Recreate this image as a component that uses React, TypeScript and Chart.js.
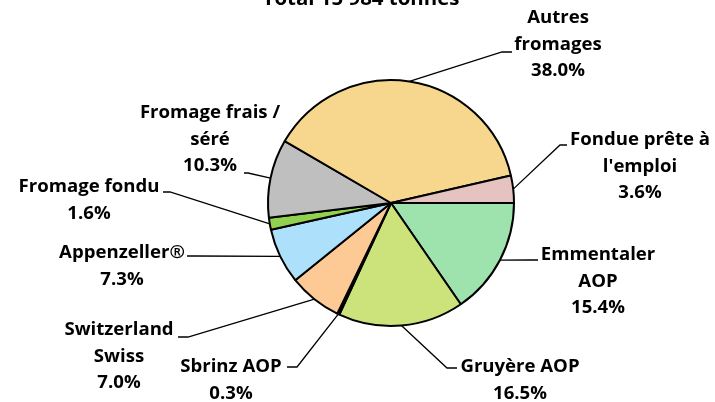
import React, { useEffect, useRef } from "react";
import { Chart, registerables } from "chart.js";

Chart.register(...registerables);

const categories: string[][] = [
  ["Emmentaler", "AOP"],
  ["Gruyère AOP"],
  ["Sbrinz AOP"],
  ["Switzerland", "Swiss"],
  ["Appenzeller®"],
  ["Fromage fondu"],
  ["Fromage frais /", "séré"],
  ["Autres", "fromages"],
  ["Fondue prête à", "l'emploi"],
];
const shares: number[] = [15.4, 16.5, 0.3, 7.0, 7.3, 1.6, 10.3, 38.0, 3.6];
const colors: string[] = [
  "#9EE2AD",
  "#CCE37B",
  "#1a1a1a",
  "#FDCA96",
  "#ADE0FA",
  "#92D050",
  "#BFBFBF",
  "#F7D78D",
  "#E5C3C1",
];
const titleText = "Total 15 984 tonnes";

// label layout: text centre (first line) and leader elbow / end, relative to pie centre
const labelLayout = [
  { tx: 207, ty: 52, ex: 139, ey: 57, sx: 147 },
  { tx: 129, ty: 164, ex: 56, ey: 165, sx: 66 },
  { tx: -160, ty: 164, ex: -94, ey: 164, sx: -104 },
  { tx: -272, ty: 127, ex: -203, ey: 134, sx: -213 },
  { tx: -269, ty: 50, ex: -196, ey: 53, sx: -204 },
  { tx: -302, ty: -16, ex: -221, ey: -11, sx: -228 },
  { tx: -181, ty: -90, ex: -143, ey: -30, sx: -147 },
  { tx: 167, ty: -185, ex: 111, ey: -151, sx: 121 },
  { tx: 249, ty: -63, ex: 169, ey: -58, sx: 176 },
];

const FAMILY = "'Open Sans', Lato, sans-serif";
const LINE_H = 26.5;

function fitSize(ctx: CanvasRenderingContext2D, text: string, target: number) {
  ctx.font = `bold 20px ${FAMILY}`;
  const w = ctx.measureText(text).width;
  return (20 * target) / w;
}

const labelPlugin = {
  id: "pieLabels",
  afterDraw(chart: any) {
    const ctx = chart.ctx as CanvasRenderingContext2D;
    const meta = chart.getDatasetMeta(0);
    ctx.save();
    const labelSize = fitSize(ctx, "Fondue prête à", 140);
    const titleSize = fitSize(ctx, titleText, 197);
    ctx.fillStyle = "#000";
    ctx.font = `bold ${titleSize}px ${FAMILY}`;
    ctx.textAlign = "center";
    ctx.textBaseline = "alphabetic";
    ctx.fillText(titleText, 361, 5);

    ctx.font = `bold ${labelSize}px ${FAMILY}`;
    ctx.textBaseline = "middle";
    ctx.strokeStyle = "#000";
    ctx.lineWidth = 1.3;
    meta.data.forEach((arc: any, i: number) => {
      const p = arc.getProps(["x", "y", "startAngle", "endAngle", "outerRadius"], true);
      const mid = (p.startAngle + p.endAngle) / 2;
      const ax = p.x + Math.cos(mid) * p.outerRadius;
      const ay = p.y + Math.sin(mid) * p.outerRadius;
      const L = labelLayout[i];
      ctx.beginPath();
      ctx.moveTo(ax, ay);
      ctx.lineTo(p.x + L.ex, p.y + L.ey);
      ctx.lineTo(p.x + L.sx, p.y + L.ey);
      ctx.stroke();
      const lines = [...categories[i], shares[i].toFixed(1) + "%"];
      lines.forEach((t, k) => {
        ctx.fillText(t, p.x + L.tx, p.y + L.ty + k * LINE_H);
      });
    });
    ctx.restore();
  },
};

export default function App() {
  const ref = useRef<HTMLCanvasElement>(null);
  useEffect(() => {
    document.body.style.margin = "0";
    const chart = new Chart(ref.current!, {
      type: "pie",
      data: {
        labels: categories.map((c) => c.join(" ")),
        datasets: [
          {
            data: shares,
            backgroundColor: colors,
            borderColor: "#000",
            borderWidth: 2,
          },
        ],
      },
      options: {
        responsive: false,
        animation: false,
        rotation: 90,
        radius: 123,
        layout: { padding: { left: 240, right: 173, top: 60, bottom: 56 } },
        plugins: {
          legend: { display: false },
          title: { display: false },
          tooltip: { enabled: false },
        },
      },
      plugins: [labelPlugin],
    });
    return () => chart.destroy();
  }, []);
  return (
    <div style={{ width: 715, height: 402, background: "#fff" }}>
      <canvas ref={ref} width={715} height={402} />
    </div>
  );
}
